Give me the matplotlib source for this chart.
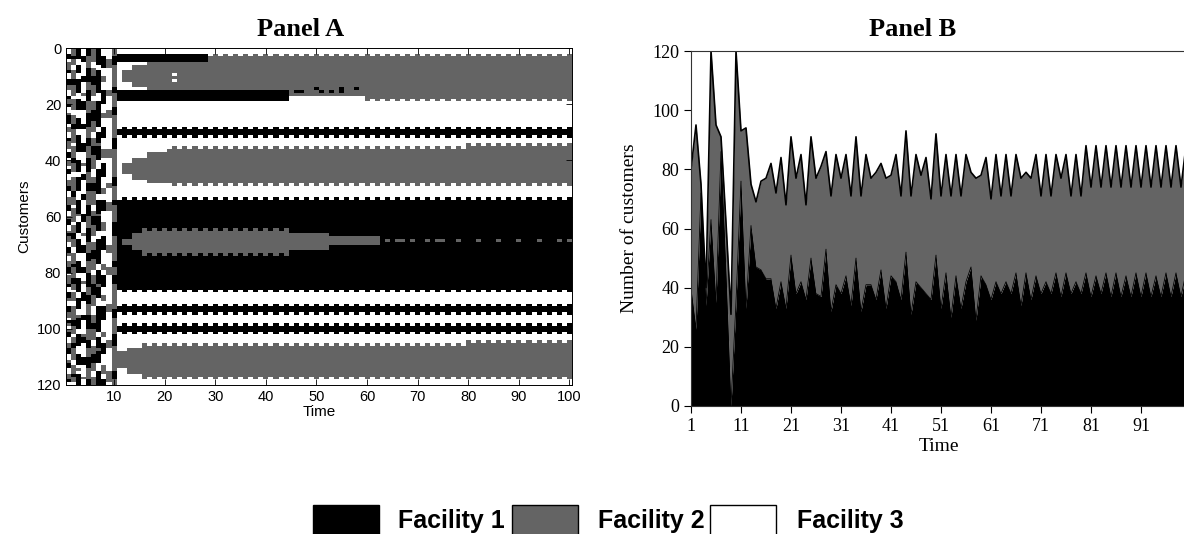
import numpy as np
import matplotlib
matplotlib.use("Agg")
from matplotlib import pyplot as plt
from matplotlib.colors import ListedColormap
from matplotlib.patches import Rectangle

N_CUSTOMERS = 120
N_STEPS = 100
GRAY = "#646464"
SANS = "Liberation Sans"
SERIF = "Liberation Serif"
CODE = {"k": 1, "g": 2, "w": 3}

# facility chosen by each customer over the first ten steps (one string per step)
# k = facility 1, g = facility 2, w = facility 3
early_steps = [
    "wwkkwgggkw wkkggwwkgg kwwgkkkwgg wwkgggwkkw ggwkkwwggk kwwgggkkww gkkwwgkggw wkkgwwggkk wgggkwwkkg wwkkggwkgw gkkwwggkkw wgkkwwggkw",
    "gggkggwwgg gkkggggwgg ggwwgggkkg ggggwggggk kgggwwgggg gkkgggwggg ggwgggkkgg gwwggggkgg ggkkggwggg wwgggggkkg ggwggkkggg gwwgggkggw",
    "kkkkwwkkkw wkkkkkwwkk kkwwwkkkkw wkkkkkkwww kkkkwwkkkk kwwwkkkkkg wwkkkkwwkk kkkwwwkkkk wwkkkkkwwk kkkwwgkkkk wwkkkkwwwk kkkwgwkkkk",
    "wwwkkwwwww kkwwwwgwwk kkwwwwwkkw wwwwkkkwww wgwwwkkwww wwkkwwwwwk kkwwwwgwww kkkwwwwwkk wwwgwwwkkk wwwwwkkwww wwgkkwwwww kkkwwwwgww",
    "kkkggggkkk kkgggkkkkg gggkkkkkgg ggkkkggggk kkkkggggkk kgggggkkkk ggggkkkkkg gggkkkgggg kkkkkgggkk kggggkkkkk ggggkkkggg kkkkggggkk",
    "gggggwwggg kkkggggwwg ggkkkkgggg wwgggkkkgg gggwwwggkk kgggggwwgg kkkggggwwg ggkkkggggw wgggkkkkgg ggwwwgggkk ggggwwgggk kkgggwwggg",
    "kkkkkkwwkk kkkkkkwwwk kkkkkkkkww kkkkgkkkkk wwwkkkkkkk kkwwkkkkkg kkkkkwwwkk kkkkkkkwwk kkkkgkkkkw wwkkkkkkkk kwwkkkkgkk kkwwwkkkkk",
    "wwwkkkkwww ggwwwkkkkk wwwggwwwkk kkwwwwgggw wkkkkkwwww ggwwkkkkww wwgggwwkkk kkwwwwwggw wkkkkwwwgg wwkkkkkwww wggwwkkkkw wwwgggwwkk",
    "wwwwgggwww wwwwwggwww wwgggwwwww wwwwwwgggw wwwwwwwwgg wwwwwgggww wwwwwwwwww gggwwwwwgg gwwwwwwwww wgggwwwwww wwwwgggwww wwwwwggggw",
    "gggkkkgggg ggggkkgggg gkkkgggggg ggkkkkgggg ggggggkkkg ggggkkgggg ggkkkkkggg ggggggkkgg gkkkgggggg gggkkkgggg ggkkkkgggg gggggkkkgg",
]

# (first row, last row, first step, last step, facility), painted in this order
bands = [
    (8, 11, 12, 13, 2), (6, 13, 14, 16, 2), (4, 14, 17, 20, 2), (3, 15, 21, 100, 2),
    (2, 4, 11, 28, 1),
    (15, 18, 11, 44, 1), (16, 16, 45, 100, 2), (17, 17, 60, 100, 2),
    (29, 30, 11, 100, 1),
    (41, 44, 12, 13, 2), (39, 46, 14, 16, 2), (37, 47, 17, 20, 2), (36, 47, 21, 100, 2),
    (35, 35, 80, 100, 2),
    (54, 85, 11, 100, 1),
    (68, 69, 12, 13, 2), (66, 71, 14, 15, 2), (65, 72, 16, 44, 2),
    (66, 71, 45, 52, 2), (67, 69, 53, 62, 2),
    (92, 93, 11, 100, 1), (99, 100, 11, 100, 1),
    (108, 113, 11, 12, 2), (107, 115, 13, 15, 2), (106, 116, 16, 100, 2),
    (105, 105, 80, 100, 2),
]

# rows on the band edges that take the facility on even steps only
edge_rows = [
    (2, 2, 29, 100), (18, 2, 60, 100),
    (28, 1, 12, 100), (31, 1, 12, 100),
    (35, 2, 21, 79), (34, 2, 80, 100), (48, 2, 21, 100),
    (53, 1, 12, 100), (86, 1, 12, 100),
    (64, 2, 16, 44), (73, 2, 16, 44),
    (91, 1, 12, 100), (94, 1, 12, 100), (98, 1, 12, 100), (101, 1, 12, 100),
    (105, 2, 16, 79), (104, 2, 80, 100), (117, 2, 16, 100),
]

# isolated cells: (row, step, facility)
spots = [
    (9, 22, 3), (11, 22, 3),
    (15, 46, 1), (15, 47, 1), (14, 50, 1), (15, 51, 1), (15, 53, 1),
    (14, 55, 1), (15, 55, 1), (14, 58, 1),
    (68, 64, 2), (68, 66, 2), (68, 67, 2), (68, 69, 2), (68, 72, 2), (68, 74, 2),
    (68, 75, 2), (68, 78, 2), (68, 82, 2), (68, 86, 2), (68, 90, 2), (68, 94, 2),
    (68, 98, 2), (68, 100, 2),
]

# Panel B: customers at facility 1, and at facilities 1 and 2 together
steps_b = list(range(1, 101))
fac1 = [40, 26, 72, 34, 63, 35, 86, 45, 0, 35, 76, 33, 61, 47, 46, 43, 43, 33, 42, 33,
        51, 38, 42, 36, 50, 38, 37, 53, 32, 41, 38, 44, 34, 50, 32, 41, 41, 36, 46, 33,
        44, 42, 36, 52, 31, 42, 40, 38, 36, 51, 33, 45, 30, 44, 33, 42, 47, 29, 44, 41,
        36, 42, 38, 42, 38, 45, 34, 45, 36, 44, 38, 42, 38, 45, 37, 45, 38, 42, 38, 45,
        37, 44, 38, 45, 37, 45, 37, 44, 37, 45, 37, 45, 37, 44, 37, 45, 37, 45, 37, 45]
fac12 = [80, 95, 75, 40, 120, 95, 91, 62, 31, 120, 93, 94, 75, 69, 76, 77, 82, 72, 84, 68,
         91, 77, 85, 68, 91, 77, 81, 86, 71, 85, 77, 85, 71, 91, 71, 85, 77, 79, 82, 77,
         78, 85, 71, 93, 71, 85, 78, 84, 70, 92, 71, 85, 71, 85, 71, 85, 79, 77, 78, 84,
         70, 85, 71, 85, 71, 85, 77, 79, 77, 85, 71, 85, 71, 85, 77, 85, 71, 85, 71, 88,
         74, 88, 74, 88, 74, 88, 74, 88, 74, 88, 74, 88, 74, 88, 74, 88, 74, 88, 74, 88]

legend_names = ["Facility 1", "Facility 2", "Facility 3"]
legend_colors = ["black", GRAY, "white"]

# build the customer x step assignment grid
grid = np.full((N_CUSTOMERS, N_STEPS), 3)
for t, col in enumerate(early_steps):
    cells = col.replace(" ", "").ljust(N_CUSTOMERS, "w")
    for r in range(N_CUSTOMERS):
        grid[r, t] = CODE[cells[r]]
for r0, r1, t0, t1, f in bands:
    grid[r0:r1 + 1, t0 - 1:t1] = f
for r, f, t0, t1 in edge_rows:
    for t in range(t0, t1 + 1):
        if t % 2 == 0:
            grid[r, t - 1] = f
for r, t, f in spots:
    grid[r, t - 1] = f

fig = plt.figure(figsize=(11.84, 5.34), dpi=100)

# Panel A
axA = fig.add_axes([66 / 1184, 1 - 385 / 534, 506 / 1184, 337 / 534])
axA.imshow(grid, cmap=ListedColormap(["black", GRAY, "white"]), vmin=0.5, vmax=3.5,
           interpolation="nearest", aspect="auto", extent=[0.5, 100.5, 120, 0])
axA.set_xlim(0.5, 100.5)
axA.set_ylim(120, 0)
axA.set_xticks(range(10, 101, 10))
axA.set_yticks(range(0, 121, 20))
axA.tick_params(direction="in", top=True, right=True, length=4, width=0.6, labelsize=10.5)
for lab in axA.get_xticklabels() + axA.get_yticklabels():
    lab.set_family(SANS)
axA.set_xlabel("Time", fontsize=11, family=SANS, labelpad=1)
axA.set_ylabel("Customers", fontsize=11, family=SANS, labelpad=4)
for s in axA.spines.values():
    s.set_linewidth(0.7)

# Panel B
axB = fig.add_axes([691 / 1184, 1 - 406 / 534, 495 / 1184, 355 / 534])
axB.fill_between(steps_b, 0, fac1, color="black", linewidth=0)
axB.fill_between(steps_b, fac1, fac12, color=GRAY, linewidth=0)
axB.plot(steps_b, fac12, color="black", linewidth=1.2)
axB.plot(steps_b, fac1, color="black", linewidth=0.6)
axB.set_xlim(1, 100)
axB.set_ylim(0, 120)
axB.set_xticks(range(1, 100, 10))
axB.set_yticks(range(0, 121, 20))
axB.tick_params(direction="out", length=5, width=0.8, labelsize=13)
for lab in axB.get_xticklabels() + axB.get_yticklabels():
    lab.set_family(SERIF)
axB.set_xlabel("Time", fontsize=14, family=SERIF, labelpad=2)
axB.set_ylabel("Number of customers", fontsize=14, family=SERIF, labelpad=10)
axB.spines["right"].set_visible(False)
for s in ["left", "bottom", "top"]:
    axB.spines[s].set_linewidth(0.8)
    axB.spines[s].set_color("#333333")

fig.text(301 / 1184, 1 - 29 / 534, "Panel A", ha="center", va="center",
         fontsize=19, fontweight="bold", family=SERIF)
fig.text(913 / 1184, 1 - 29 / 534, "Panel B", ha="center", va="center",
         fontsize=19, fontweight="bold", family=SERIF)

# legend along the bottom edge
box_left = [313, 512, 710]
text_left = [398, 598, 797]
for name, color, bx, tx in zip(legend_names, legend_colors, box_left, text_left):
    fig.add_artist(Rectangle((bx / 1184, -0.01), 66 / 1184, 29 / 534 + 0.01,
                             transform=fig.transFigure, facecolor=color,
                             edgecolor="black", linewidth=1.0))
    fig.text(tx / 1184, 1 - 521 / 534, name, ha="left", va="center",
             fontsize=18, fontweight="bold", family=SANS)

fig.savefig("out.png", dpi=100)
